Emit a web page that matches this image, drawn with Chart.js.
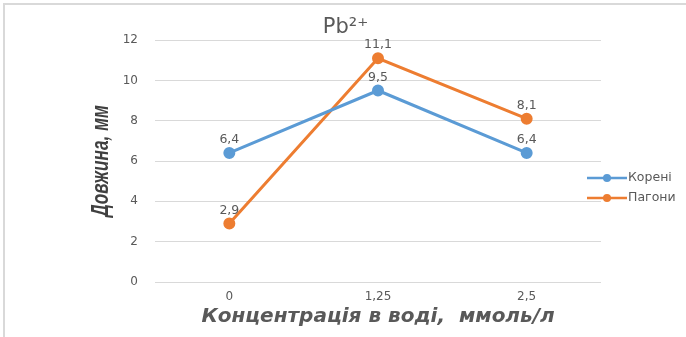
<!DOCTYPE html>
<html>
<head>
<meta charset="utf-8">
<script src="https://cdn.jsdelivr.net/npm/chart.js@4"></script>
<style>
  html, body { margin: 0; padding: 0; background: #fff; overflow: hidden; }
  #wrap { position: relative; width: 686px; height: 337px; }
  canvas { display: block; }
  .hline { position: absolute; left: 3px; top: 3px; width: 683px; height: 2px; background: #d9d9d9; }
  .vline { position: absolute; left: 3px; top: 3px; width: 2px; height: 334px; background: #d9d9d9; }
</style>
</head>
<body>
<div id="wrap">
  <canvas id="chart" width="686" height="337"></canvas>
  <div class="hline"></div>
  <div class="vline"></div>
</div>
<script>
// Chart data
const categories = ['0', '1,25', '2,5'];
const koreni = [6.4, 9.5, 6.4];
const pagoni = [2.9, 11.1, 8.1];
const seriesNames = ['Корені', 'Пагони'];
const seriesColors = ['#5B9BD5', '#ED7D31'];
const yTitle = 'Довжина, мм';

// Value labels above each point, written with a comma
const valueLabels = {
    id: 'valueLabels',
    afterDatasetsDraw(chart) {
        const ctx = chart.ctx;
        ctx.save();
        ctx.font = '12.5px "DejaVu Sans"';
        ctx.fillStyle = '#595959';
        ctx.textAlign = 'center';
        ctx.textBaseline = 'middle';
        chart.data.datasets.forEach((ds, i) => {
            chart.getDatasetMeta(i).data.forEach((pt, j) => {
                const txt = String(ds.data[j]).replace('.', ',');
                ctx.fillText(txt, pt.x, pt.y - 13);
            });
        });
        ctx.restore();
    }
};

// Legend on the right: line with a dot, then the name
const sideLegend = {
    id: 'sideLegend',
    afterDraw(chart) {
        const ctx = chart.ctx;
        ctx.save();
        ctx.font = '12.5px "DejaVu Sans"';
        ctx.textBaseline = 'middle';
        chart.data.datasets.forEach((ds, i) => {
            const y = 178 + i * 20;
            ctx.strokeStyle = ds.borderColor;
            ctx.lineWidth = 2.5;
            ctx.beginPath();
            ctx.moveTo(587, y);
            ctx.lineTo(627, y);
            ctx.stroke();
            ctx.fillStyle = ds.borderColor;
            ctx.beginPath();
            ctx.arc(607, y, 4, 0, Math.PI * 2);
            ctx.fill();
            ctx.fillStyle = '#595959';
            ctx.fillText(ds.label, 628, y);
        });
        ctx.restore();
    }
};

// Condensed, rotated y axis title
const yAxisTitle = {
    id: 'yAxisTitle',
    afterDraw(chart) {
        const ctx = chart.ctx;
        const area = chart.chartArea;
        ctx.save();
        ctx.translate(102, (area.top + area.bottom) / 2);
        ctx.rotate(-Math.PI / 2);
        ctx.scale(0.75, 1);
        ctx.font = 'italic bold 23px "Liberation Sans"';
        ctx.fillStyle = '#404040';
        ctx.textAlign = 'center';
        ctx.textBaseline = 'middle';
        ctx.fillText(yTitle, 0, 0);
        ctx.restore();
    }
};

const ctx = document.getElementById('chart').getContext('2d');
new Chart(ctx, {
    type: 'line',
    data: {
        labels: categories,
        datasets: [
            { label: seriesNames[0], data: koreni, borderColor: seriesColors[0], backgroundColor: seriesColors[0] },
            { label: seriesNames[1], data: pagoni, borderColor: seriesColors[1], backgroundColor: seriesColors[1] }
        ].map(d => Object.assign(d, { borderWidth: 3, pointRadius: 4.5, pointHoverRadius: 4.5, tension: 0 }))
    },
    options: {
        responsive: false,
        animation: false,
        layout: { padding: { left: 90, right: 85, top: 0, bottom: 0 } },
        plugins: {
            legend: { display: false },
            tooltip: { enabled: false },
            title: {
                display: true,
                text: 'Pb²⁺',
                color: '#595959',
                font: { family: '"DejaVu Sans"', size: 21, weight: 'normal', lineHeight: 1.1 },
                padding: { top: 16, bottom: 1 }
            }
        },
        scales: {
            x: {
                offset: true,
                grid: { display: false, drawTicks: false },
                border: { display: false },
                ticks: { color: '#595959', font: { family: '"DejaVu Sans"', size: 12 }, padding: 8 },
                title: {
                    display: true,
                    text: 'Концентрація в воді,  ммоль/л',
                    color: '#595959',
                    font: { family: '"DejaVu Sans"', size: 20, weight: 'bold', style: 'italic' },
                    padding: { top: 2, bottom: 8 }
                },
                afterFit: s => { s.height = 55; }
            },
            y: {
                min: 0,
                max: 12,
                ticks: { stepSize: 2, color: '#595959', font: { family: '"DejaVu Sans"', size: 12 }, padding: 17 },
                grid: { color: '#d9d9d9', lineWidth: 1, drawTicks: false },
                border: { display: false },
                afterFit: s => { s.width = 65; }
            }
        }
    },
    plugins: [valueLabels, sideLegend, yAxisTitle]
});
</script>
</body>
</html>
